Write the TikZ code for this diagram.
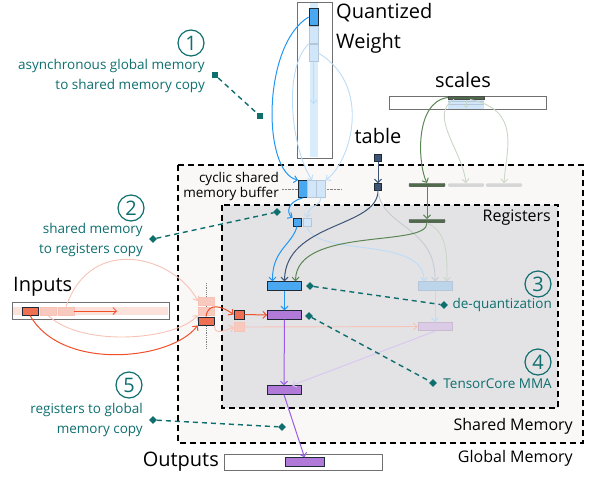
\documentclass[tikz,border=0pt]{standalone}
\usepackage{fontspec}
\setmainfont{Open Sans}
\usetikzlibrary{arrows.meta,shapes.geometric}

\definecolor{shmemfill}{HTML}{F9F8F7}
\definecolor{regfill}{HTML}{E3E3E6}
\definecolor{frameedge}{HTML}{707070}
\definecolor{tileedge}{HTML}{1E2A36}
\definecolor{ghostedge}{HTML}{B4C6D8}
\definecolor{wblue}{HTML}{4AA8F0}
\definecolor{blueline}{HTML}{2196F3}
\definecolor{lbluetile}{HTML}{D2E6F9}
\definecolor{lblueline}{HTML}{BCDCF8}
\definecolor{wstripe}{HTML}{D9ECFC}
\definecolor{slate}{HTML}{3D5475}
\definecolor{lgrayline}{HTML}{C6CBD3}
\definecolor{green}{HTML}{5B8754}
\definecolor{darkgreen}{HTML}{4F6B4C}
\definecolor{lgreenline}{HTML}{CAD7C6}
\definecolor{lgraybar}{HTML}{D6D6D6}
\definecolor{redtile}{HTML}{EE6F52}
\definecolor{redline}{HTML}{F04F2A}
\definecolor{pinktile}{HTML}{F8CABF}
\definecolor{pinkline}{HTML}{F7C3B6}
\definecolor{pinkstripe}{HTML}{FDE1DB}
\definecolor{ldeqtile}{HTML}{BDD5EA}
\definecolor{purpletile}{HTML}{B17AD8}
\definecolor{purpleline}{HTML}{9A5CE8}
\definecolor{lpurpletile}{HTML}{DCCBE6}
\definecolor{lpurpleline}{HTML}{D8C6F0}
\definecolor{teal}{HTML}{0F6E6E}

\tikzset{
  region/.style={draw=black, line width=1.5pt, dash pattern=on 6pt off 4pt},
  frame/.style={draw=frameedge, line width=.8pt, fill=white, inner sep=0pt},
  tile/.style={draw=tileedge, line width=.8pt, inner sep=0pt, minimum width=9pt, minimum height=17pt},
  ghost/.style={draw=ghostedge, line width=.6pt, inner sep=0pt, minimum width=9pt, minimum height=17pt},
  sqtile/.style={minimum width=8pt, minimum height=8pt},
  intile/.style={minimum width=16pt, minimum height=8pt},
  bar/.style={draw=tileedge, line width=.9pt, inner sep=0pt, minimum width=34pt, minimum height=8.5pt},
  thinbar/.style={inner sep=0pt, minimum width=36pt, minimum height=3.5pt, rounded corners=1pt},
  conn/.style={->, line width=1pt},
  faint/.style={->, line width=.9pt},
  bigfont/.style={inner sep=0pt, font=\fontsize{20}{23}\selectfont},
  midfont/.style={inner sep=0pt, font=\fontsize{16}{19}\selectfont},
  note/.style={inner sep=0pt, text=teal, align=right, font=\fontsize{13.5}{20}\selectfont},
  num/.style={circle, draw=teal, line width=1.2pt, text=teal, minimum size=26pt, inner sep=0pt, font=\fontsize{20}{20}\selectfont},
  tack/.style={diamond, fill=teal, inner sep=0pt, minimum size=8pt},
  tacksq/.style={rectangle, fill=teal, inner sep=0pt, minimum size=6pt},
  lead/.style={teal, line width=1.4pt, dash pattern=on 5pt off 4pt},
}

\begin{document}
\begin{tikzpicture}[x=1pt, y=-1pt, >={Straight Barb[length=3.5pt,width=7pt]}]
\useasboundingbox (0,0) rectangle (589,477);

% memory levels
\draw[region, fill=shmemfill] (178,165) rectangle (583,443);
\draw[region, fill=regfill] (222,205) rectangle (558,408);
\node[midfont, anchor=east] (reglbl) at (551,218) {Registers};
\node[midfont, anchor=east] (shlbl) at (573,426) {Shared Memory};
\node[midfont, anchor=east] (gllbl) at (573,458) {Global Memory};

% quantized weight in global memory
\node[frame, minimum width=35pt, minimum height=156pt] (wbox) at (314.5,80) {};
\fill[wstripe] (309.5,3) rectangle (318,157);
\node[tile, fill=wblue] (w1) at (313.5,17) {};
\node[ghost, fill=lbluetile] (w2) at (313.5,35) {};
\node[ghost, fill=lbluetile] (w3) at (313.5,53) {};
\coordinate (wend) at (313.5,104);
\node[bigfont, anchor=west] (wlbl1) at (336,13) {Quantized};
\node[bigfont, anchor=west] (wlbl2) at (336,43) {Weight};

% cyclic buffer in shared memory
\draw[densely dotted, gray] (282,189) -- (342,189);
\node[tile, fill=wblue] (s1) at (303,189) {};
\node[ghost, fill=lbluetile] (s2) at (312,189) {};
\node[ghost, fill=lbluetile] (s3) at (321,189) {};
\node[anchor=east, align=right, inner sep=0pt, font=\fontsize{13.5}{15}\selectfont] (cyc) at (279,186) {cyclic shared\\memory buffer};

% weight fragments in registers
\node[tile, sqtile, fill=wblue] (r1) at (297,222) {};
\node[ghost, sqtile, fill=lbluetile] (r2) at (307,222) {};

% lookup table
\node[bigfont] (tbllbl) at (378,136) {table};
\node[draw=tileedge, fill=slate, inner sep=0pt, minimum size=7pt] (tb1) at (378,158) {};
\node[draw=tileedge, fill=slate, inner sep=0pt, minimum size=7pt] (tb2) at (378,187) {};

% scales
\node[bigfont] (sclbl) at (463,80) {scales};
\node[frame, minimum width=157pt, minimum height=13pt] (scbox) at (467.5,103) {};
\fill[lbluetile] (448,99) rectangle (484,109);
\draw[ghostedge, line width=.5pt] (448,101.5) -- (484,101.5) (448,104) -- (484,104);
\node[thinbar, fill=darkgreen, draw=black!70, rounded corners=0pt] (sc1) at (466,97.5) {};
\draw[->, lgreenline, line width=.7pt, >={Straight Barb[length=2pt,width=4pt]}] (466,100) -- (466,108);
\node[thinbar, fill=darkgreen, draw=black!60] (gb1) at (427,185) {};
\node[thinbar, fill=lgraybar] (lgb1) at (466,185) {};
\node[thinbar, fill=lgraybar] (lgb2) at (504,185) {};
\node[thinbar, fill=darkgreen, draw=black!60] (gb2) at (427,221) {};

% de-quantized and MMA tiles
\node[bar, fill=wblue] (deq) at (284.5,286) {};
\node[bar, draw=ghostedge, fill=ldeqtile] (ldeq) at (435,286) {};
\node[bar, fill=purpletile] (mma) at (284.5,315) {};
\node[bar, draw=lpurpletile!80!gray, fill=lpurpletile] (lmma) at (435,326.5) {};
\node[bar, fill=purpletile] (acc) at (284,390) {};

% inputs
\node[frame, minimum width=157pt, minimum height=17pt] (inbox) at (90.5,310.5) {};
\fill[pinkstripe] (13,307) rectangle (168,315);
\node[tile, intile, fill=redtile] (i1) at (30,311) {};
\node[ghost, intile, draw=pinkline, fill=pinktile] (i2) at (48,311) {};
\node[ghost, intile, draw=pinkline, fill=pinktile] (i3) at (66,311) {};
\coordinate (iend) at (117,311);
\node[bigfont, anchor=west] (inlbl) at (13,287) {Inputs};

\draw[densely dotted, gray, line width=.8pt] (206,283) -- (206,348);
\node[ghost, intile, draw=pinkline, fill=pinktile] (si1) at (206,301) {};
\node[ghost, intile, draw=pinkline, fill=pinktile] (si2) at (206,311) {};
\node[tile, intile, fill=redtile] (si3) at (206,321) {};
\node[tile, minimum width=10pt, minimum height=9pt, fill=redtile] (ri1) at (239,314.5) {};
\node[ghost, minimum width=10pt, minimum height=9pt, draw=pinkline, fill=pinktile] (ri2) at (239,327) {};

% outputs
\node[frame, minimum width=158pt, minimum height=16pt] (outbox) at (303,462.5) {};
\node[bar, minimum width=39pt, fill=purpletile] (ob) at (304.5,462) {};
\node[bigfont, anchor=east] (outlbl) at (219,462) {Outputs};

% weight path
\draw[faint, lblueline] (w3) -- (wend);
\draw[conn, blueline] (w1.west) .. controls (262,45) and (262,172) .. (s1.north west);
\draw[faint, lblueline] (w2.south west) .. controls (282,70) and (292,150) .. (s2.north);
\draw[faint, lblueline] (w3.east) .. controls (372,85) and (352,160) .. (s3.north east);
\draw[conn, blueline] (s1.south) .. controls (286,202) and (287,214) .. (r1.north west);
\draw[faint, lblueline] (s3.south) .. controls (320,207) and (308,205) .. (r2.north);
\draw[conn, blueline] (r1.south) .. controls (292,245) and (272,250) .. ([xshift=-12pt]deq.north);
\draw[faint, lblueline] (r2.south) .. controls (315,258) and (424,235) .. ([xshift=-11pt]ldeq.north);

% table path
\draw[conn, slate] (tb1) -- (tb2);
\draw[conn, slate] (tb2.south) .. controls (378,228) and (285,222) .. (deq.north);
\draw[faint, lgrayline] (tb2.south) .. controls (382,228) and (436,226) .. (ldeq.north);

% scales path
\draw[conn, green] (sc1.west) .. controls (414,102) and (418,165) .. (gb1.north);
\draw[faint, lgreenline] ([xshift=-12pt]sc1.south) .. controls (428,115) and (462,150) .. (lgb1.north);
\draw[faint, lgreenline] ([xshift=4pt]sc1.south) .. controls (522,110) and (506,150) .. (lgb2.north);
\draw[conn, green] (gb1.south) -- (gb2.north);
\draw[conn, green] (gb2.south) .. controls (428,248) and (296,226) .. ([xshift=11pt]deq.north);
\draw[faint, lgreenline] (gb2.south) .. controls (447,232) and (447,252) .. ([xshift=12pt]ldeq.north);

% inputs path
\draw[->, redline, line width=.8pt] (i3.east) -- (iend);
\draw[conn, redline] (i1.south) .. controls (62,372) and (172,360) .. (si3.south west);
\draw[faint, pinkline] (i2.south) .. controls (82,348) and (176,340) .. (si2.south west);
\draw[faint, pinkline] (i3.north) .. controls (92,232) and (176,258) .. (si1.west);
\draw[conn, redline] (si3.north) .. controls (208,302) and (222,306) .. (ri1.west);
\draw[faint, pinkline] (si3.south east) .. controls (214,336) and (226,330) .. (ri2.west);
\draw[conn, redline] (ri1.east) -- (mma.west);
\draw[faint, pinkline] (ri2.east) -- (lmma.west);

% MMA and store
\draw[conn, blueline] (deq.south) -- (mma.north);
\draw[faint, lblueline] (ldeq.south) -- (lmma.north);
\draw[conn, purpleline] (mma.south) -- (acc.north);
\draw[faint, lpurpleline] (lmma.south) -- ([xshift=8pt]acc.north);
\draw[conn, purpleline] (acc.south) -- (ob.north);

% callouts
\node[num] (n1) at (191,43) {1};
\node[note, anchor=east] (note1) at (205,76) {asynchronous global memory\\to shared memory copy};
\node[tacksq] (a1) at (215,75) {};
\node[tacksq] (b1) at (260,116) {};
\draw[lead] (a1) -- (b1);

\node[num] (n2) at (131,208) {2};
\node[note, anchor=east] (note2) at (143,240) {shared memory\\to registers copy};
\node[tack] (a2) at (153,239) {};
\node[tack] (b2) at (277,212) {};
\draw[lead] (a2) -- (b2);

\node[num] (n3) at (538,284) {3};
\node[note, anchor=east] (note3) at (552,305) {de-quantization};
\node[tack] (a3) at (310,286) {};
\node[tack] (b3) at (444,305) {};
\draw[lead] (a3) -- (b3);

\node[num] (n4) at (538,362) {4};
\node[note, anchor=east] (note4) at (552,384) {TensorCore MMA};
\node[tack] (a4) at (309,316) {};
\node[tack] (b4) at (433,383) {};
\draw[lead] (a4) -- (b4);

\node[num] (n5) at (129,385) {5};
\node[note, anchor=east] (note5) at (143,420) {registers to global\\memory copy};
\node[tack] (a5) at (153,420) {};
\node[tack] (b5) at (282,427) {};
\draw[lead] (a5) -- (b5);
\end{tikzpicture}
\end{document}
